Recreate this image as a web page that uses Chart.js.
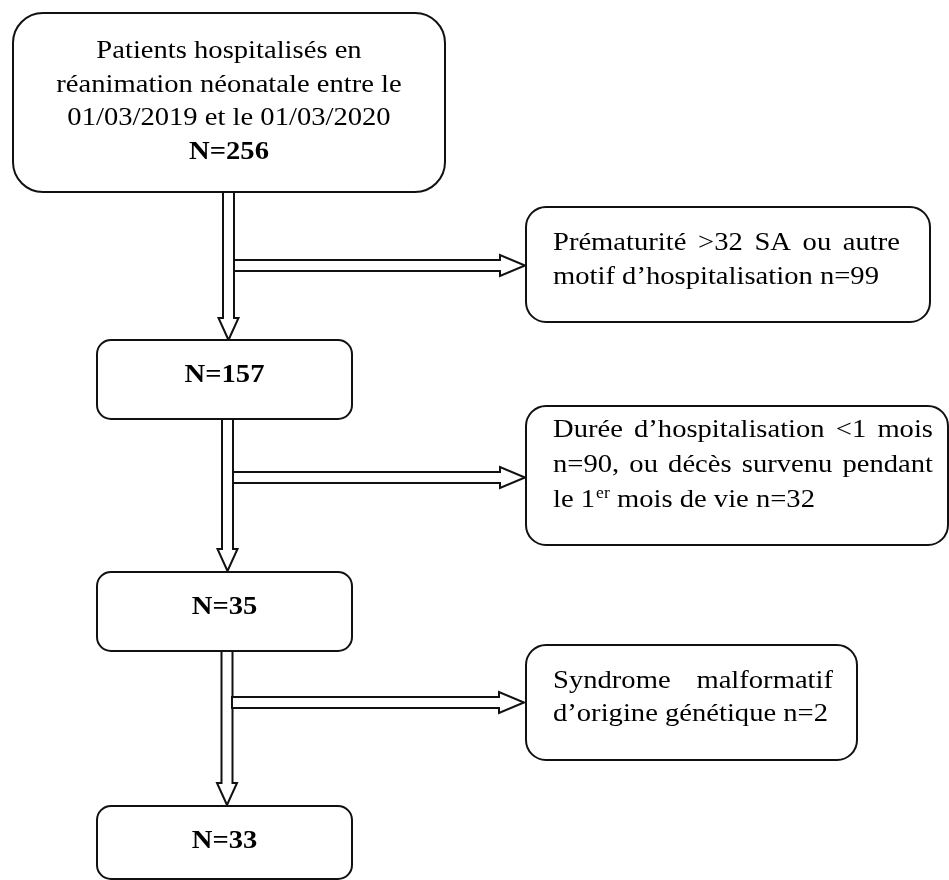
<!DOCTYPE html>
<html>
<head>
<meta charset="utf-8">
<script src="https://cdn.jsdelivr.net/npm/chart.js@4"></script>
<style>
  html, body { margin: 0; padding: 0; background: #fff; }
  canvas { display: block; }
</style>
</head>
<body>
<canvas id="flow" width="949" height="880"></canvas>
<script>
// Flow of included patients: counts at each stage and the exclusions between them.
const STAGE_COUNTS = [256, 157, 35, 33];
const INCLUSION_LINES = ["Patients hospitalisés en", "réanimation néonatale entre le", "01/03/2019 et le 01/03/2020"];
const EXCLUSION_LINES = [
  ["Prématurité >32 SA ou autre", "motif d’hospitalisation n=99"],
  ["Durée d’hospitalisation <1 mois", "n=90, ou décès survenu pendant", "le 1^{er} mois de vie n=32"],
  ["Syndrome malformatif", "d’origine génétique n=2"],
];

// Layout in chart units (the x/y scales run 0..949 and 0..880, y downwards).
const STAGE_BOXES = [
  { x0: 13, x1: 445, y0: 13, y1: 192, r: 30 },
  { x0: 97, x1: 352, y0: 340, y1: 419, r: 14 },
  { x0: 97, x1: 352, y0: 572, y1: 651, r: 14 },
  { x0: 97, x1: 352, y0: 806, y1: 879, r: 14 },
];
const EXCL_BOXES = [
  { x0: 526, x1: 930, y0: 207, y1: 322, r: 20, tx: 553, tw: 347, base: 250, lh: 33.5 },
  { x0: 526, x1: 948, y0: 406, y1: 545, r: 20, tx: 553, tw: 380, base: 437, lh: 35 },
  { x0: 526, x1: 857, y0: 645, y1: 760, r: 20, tx: 553, tw: 280, base: 688, lh: 33 },
];
const DOWN_ARROWS = [
  { x: 228.5, y0: 192, y1: 340 },
  { x: 227.5, y0: 419, y1: 571 },
  { x: 227, y0: 651, y1: 805 },
];
const SIDE_ARROWS = [
  { y: 265.5, x0: 234, x1: 525 },
  { y: 477.5, x0: 233, x1: 525 },
  { y: 702.5, x0: 232, x1: 524 },
];

const FONT = '"Liberation Serif", "Times New Roman", serif';
const FS = 26;     // font size
const SX = 1.1;    // horizontal stretch of the source figure

function textW(ctx, s) { return ctx.measureText(s).width * SX; }

function drawRun(ctx, s, x, y) {
  ctx.save(); ctx.translate(x, y); ctx.scale(SX, 1);
  ctx.textAlign = "left"; ctx.fillText(s, 0, 0);
  ctx.restore();
}

// line with optional ^{sup} parts, left aligned at x
function drawRich(ctx, line, x, y) {
  const parts = line.split(/\^\{([^}]*)\}/);
  let cx = x;
  parts.forEach((p, i) => {
    if (!p) return;
    if (i % 2 === 1) {
      ctx.font = Math.round(FS * 0.62) + "px " + FONT;
      drawRun(ctx, p, cx + 1, y - FS * 0.36);
      cx += textW(ctx, p) + 1;
      ctx.font = FS + "px " + FONT;
    } else {
      drawRun(ctx, p, cx, y);
      cx += textW(ctx, p);
    }
  });
}

function drawJustified(ctx, line, x, y, w) {
  const words = line.split(" ");
  const total = words.reduce((a, wd) => a + textW(ctx, wd), 0);
  const gap = (w - total) / (words.length - 1);
  let cx = x;
  words.forEach((wd) => { drawRun(ctx, wd, cx, y); cx += textW(ctx, wd) + gap; });
}

function roundBox(ctx, a, b, c, d, r) {
  ctx.beginPath();
  ctx.roundRect(a, b, c - a, d - b, r);
  ctx.fillStyle = "#fff"; ctx.fill();
  ctx.lineWidth = 2; ctx.strokeStyle = "#111"; ctx.stroke();
}

function hollowArrow(ctx, pts) {
  ctx.beginPath();
  pts.forEach((p, i) => (i ? ctx.lineTo(p[0], p[1]) : ctx.moveTo(p[0], p[1])));
  ctx.closePath();
  ctx.fillStyle = "#fff"; ctx.fill();
  ctx.lineWidth = 2; ctx.lineJoin = "miter"; ctx.strokeStyle = "#111"; ctx.stroke();
}

const flowPlugin = {
  id: "flow",
  afterDraw(chart) {
    const ctx = chart.ctx, xs = chart.scales.x, ys = chart.scales.y;
    const X = (v) => xs.getPixelForValue(v), Y = (v) => ys.getPixelForValue(v);
    ctx.save();
    ctx.textBaseline = "alphabetic";

    // vertical arrows: shaft 11 wide, head 20 wide, 22 long
    DOWN_ARROWS.forEach((a) => {
      const x = X(a.x), t = Y(a.y0), tip = Y(a.y1), h = tip - 22;
      hollowArrow(ctx, [[x - 5.5, t], [x - 5.5, h], [x - 10, h], [x, tip], [x + 10, h], [x + 5.5, h], [x + 5.5, t]]);
    });
    SIDE_ARROWS.forEach((a) => {
      const y = Y(a.y), l = X(a.x0), tip = X(a.x1), h = tip - 25;
      hollowArrow(ctx, [[l, y - 5.5], [h, y - 5.5], [h, y - 10.5], [tip, y], [h, y + 10.5], [h, y + 5.5], [l, y + 5.5]]);
    });

    STAGE_BOXES.forEach((b) => roundBox(ctx, X(b.x0), Y(b.y0), X(b.x1), Y(b.y1), b.r));
    EXCL_BOXES.forEach((b) => roundBox(ctx, X(b.x0), Y(b.y0), X(b.x1), Y(b.y1), b.r));

    ctx.fillStyle = "#000";
    // first box: description + count, centred
    const b0 = STAGE_BOXES[0], cx0 = X((b0.x0 + b0.x1) / 2);
    ctx.font = FS + "px " + FONT;
    INCLUSION_LINES.forEach((ln, i) => {
      drawRun(ctx, ln, cx0 - textW(ctx, ln) / 2, Y(58 + i * 33.7));
    });
    ctx.font = "bold " + FS + "px " + FONT;
    const first = "N=" + STAGE_COUNTS[0];
    drawRun(ctx, first, cx0 - textW(ctx, first) / 2, Y(58 + 3 * 33.7));

    // other stage boxes: count only, upper part of the box
    STAGE_COUNTS.slice(1).forEach((n, i) => {
      const b = STAGE_BOXES[i + 1], s = "N=" + n;
      drawRun(ctx, s, X((b.x0 + b.x1) / 2) - textW(ctx, s) / 2, Y(b.y0 + 42));
    });

    // exclusion boxes: justified except the last line
    ctx.font = FS + "px " + FONT;
    EXCLUSION_LINES.forEach((lines, k) => {
      const b = EXCL_BOXES[k];
      lines.forEach((ln, i) => {
        const y = Y(b.base + i * b.lh);
        if (i < lines.length - 1) drawJustified(ctx, ln, X(b.tx), y, b.tw);
        else drawRich(ctx, ln, X(b.tx), y);
      });
    });
    ctx.restore();
  },
};

new Chart(document.getElementById("flow"), {
  type: "scatter",
  data: { datasets: [] },
  options: {
    responsive: false,
    devicePixelRatio: 1,
    animation: false,
    layout: { padding: 0 },
    plugins: { legend: { display: false }, tooltip: { enabled: false } },
    scales: {
      x: { type: "linear", min: 0, max: 949, display: false },
      y: { type: "linear", min: 0, max: 880, reverse: true, display: false },
    },
  },
  plugins: [flowPlugin],
});
</script>
</body>
</html>
